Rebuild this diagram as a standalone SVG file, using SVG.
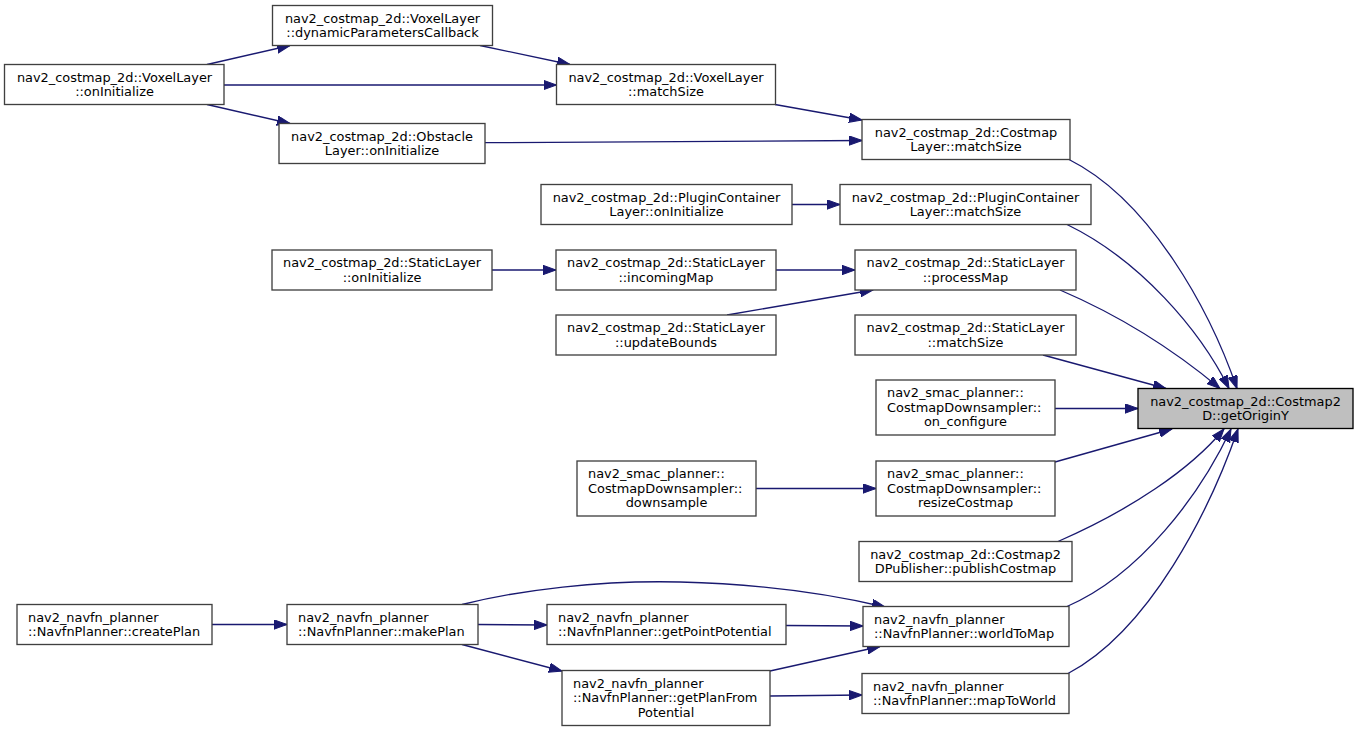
<svg xmlns="http://www.w3.org/2000/svg" width="1359" height="731" viewBox="0 0 1359 731">
<style>
.n rect{fill:#fff;stroke:#404040;stroke-width:1.33}
.root rect{fill:#bfbfbf;stroke:#000}
text{font-family:"DejaVu Sans","Liberation Sans",sans-serif;font-size:12.9px;fill:#000}
.c{text-anchor:middle}
.l{text-anchor:start}
#edges path{fill:none;stroke:#191970;stroke-width:1.33;marker-end:url(#ah)}
</style>
<defs>
<marker id="ah" markerUnits="userSpaceOnUse" markerWidth="14" markerHeight="10" refX="13" refY="4.7" orient="auto">
<path d="M0,0 L13,4.7 L0,9.4 z" fill="#191970" stroke="#191970"/>
</marker>
</defs>
<rect width="1359" height="731" fill="#fff"/>
<g id="edges">
<path d="M207,64.5 L290,45.5"/>
<path d="M224,85 L556.5,85"/>
<path d="M207,104.5 L290,123.5"/>
<path d="M480,45.5 L570,64.5"/>
<path d="M775,104.5 L862,120"/>
<path d="M485,142.7 L862,140.5"/>
<path d="M792,204.5 L840,204.5"/>
<path d="M492,270 L556,270"/>
<path d="M776,270 L855,270"/>
<path d="M727,315 L873,290"/>
<path d="M756,488.5 L876,488.5"/>
<path d="M212,624.5 L287,624.5"/>
<path d="M478,624.5 L547,625"/>
<path d="M462,644.5 L562,671"/>
<path d="M462,604.5 C520,590 600,580 680,582 C760,584 830,594 885,607"/>
<path d="M786,625.5 L863,626"/>
<path d="M770,671 L880,646.5"/>
<path d="M770,696 L862,695"/>
<path d="M1067,606.5 C1140,575 1200,495 1231,429"/>
<path d="M1068,673.5 C1150,630 1210,510 1238,429"/>
<path d="M1058,541.5 C1130,510 1190,470 1224,429"/>
<path d="M1055,462 L1172,429"/>
<path d="M1055,408.5 L1138,408.5"/>
<path d="M1043,355 L1166,388.5"/>
<path d="M1060,290 C1130,320 1180,355 1220,388.5"/>
<path d="M1067,224.5 C1140,260 1200,330 1229,388.5"/>
<path d="M1069,159.5 C1150,200 1210,310 1237,388.5"/>
</g>
<g id="n1" class="n"><rect x="4.5" y="64.5" width="219.5" height="40"/><text class="c" x="114.5" y="81.5">nav2_costmap_2d::VoxelLayer</text><text class="c" x="114.5" y="96">::onInitialize</text></g>
<g id="n2" class="n"><rect x="272.5" y="5.5" width="220" height="40"/><text class="c" x="382.5" y="22.5">nav2_costmap_2d::VoxelLayer</text><text class="c" x="382.5" y="37">::dynamicParametersCallback</text></g>
<g id="n3" class="n"><rect x="279" y="123.5" width="206" height="40"/><text class="c" x="382" y="140.5">nav2_costmap_2d::Obstacle</text><text class="c" x="382" y="155">Layer::onInitialize</text></g>
<g id="n4" class="n"><rect x="556.5" y="64.5" width="219" height="40"/><text class="c" x="666" y="81.5">nav2_costmap_2d::VoxelLayer</text><text class="c" x="666" y="96">::matchSize</text></g>
<g id="n5" class="n"><rect x="862" y="119.5" width="208" height="40"/><text class="c" x="966" y="136.5">nav2_costmap_2d::Costmap</text><text class="c" x="966" y="151">Layer::matchSize</text></g>
<g id="n6" class="n"><rect x="541" y="184.5" width="251" height="40"/><text class="c" x="666.5" y="201.5">nav2_costmap_2d::PluginContainer</text><text class="c" x="666.5" y="216">Layer::onInitialize</text></g>
<g id="n7" class="n"><rect x="840" y="184.5" width="251" height="40"/><text class="c" x="965.5" y="201.5">nav2_costmap_2d::PluginContainer</text><text class="c" x="965.5" y="216">Layer::matchSize</text></g>
<g id="n8" class="n"><rect x="272" y="250" width="220" height="40"/><text class="c" x="382" y="267">nav2_costmap_2d::StaticLayer</text><text class="c" x="382" y="281.5">::onInitialize</text></g>
<g id="n9" class="n"><rect x="556" y="250" width="220" height="40"/><text class="c" x="666" y="267">nav2_costmap_2d::StaticLayer</text><text class="c" x="666" y="281.5">::incomingMap</text></g>
<g id="n10" class="n"><rect x="855" y="250" width="221" height="40"/><text class="c" x="965.5" y="267">nav2_costmap_2d::StaticLayer</text><text class="c" x="965.5" y="281.5">::processMap</text></g>
<g id="n11" class="n"><rect x="556" y="315" width="220" height="40"/><text class="c" x="666" y="332">nav2_costmap_2d::StaticLayer</text><text class="c" x="666" y="346.5">::updateBounds</text></g>
<g id="n12" class="n"><rect x="855" y="315" width="221" height="40"/><text class="c" x="965.5" y="332">nav2_costmap_2d::StaticLayer</text><text class="c" x="965.5" y="346.5">::matchSize</text></g>
<g id="n13" class="n root"><rect x="1138" y="388.5" width="215" height="40"/><text class="c" x="1245.5" y="405.5">nav2_costmap_2d::Costmap2</text><text class="c" x="1245.5" y="420">D::getOriginY</text></g>
<g id="n14" class="n"><rect x="876" y="380" width="179" height="55"/><text class="l" x="887" y="397">nav2_smac_planner::</text><text class="l" x="887" y="411.5">CostmapDownsampler::</text><text class="c" x="965.5" y="426">on_configure</text></g>
<g id="n15" class="n"><rect x="577" y="461" width="179" height="55"/><text class="l" x="588" y="478">nav2_smac_planner::</text><text class="l" x="588" y="492.5">CostmapDownsampler::</text><text class="c" x="666.5" y="507">downsample</text></g>
<g id="n16" class="n"><rect x="876" y="461" width="179" height="55"/><text class="l" x="887" y="478">nav2_smac_planner::</text><text class="l" x="887" y="492.5">CostmapDownsampler::</text><text class="c" x="965.5" y="507">resizeCostmap</text></g>
<g id="n17" class="n"><rect x="859" y="541.5" width="213" height="40"/><text class="c" x="965.5" y="558.5">nav2_costmap_2d::Costmap2</text><text class="c" x="965.5" y="573">DPublisher::publishCostmap</text></g>
<g id="n18" class="n"><rect x="17" y="604.5" width="195" height="40"/><text class="l" x="28" y="621.5">nav2_navfn_planner</text><text class="l" x="28" y="636">::NavfnPlanner::createPlan</text></g>
<g id="n19" class="n"><rect x="287" y="604.5" width="191" height="40"/><text class="l" x="298" y="621.5">nav2_navfn_planner</text><text class="l" x="298" y="636">::NavfnPlanner::makePlan</text></g>
<g id="n20" class="n"><rect x="547" y="604.5" width="239" height="40"/><text class="l" x="558" y="621.5">nav2_navfn_planner</text><text class="l" x="558" y="636">::NavfnPlanner::getPointPotential</text></g>
<g id="n21" class="n"><rect x="863" y="606.5" width="206" height="40"/><text class="l" x="874" y="623.5">nav2_navfn_planner</text><text class="l" x="874" y="638">::NavfnPlanner::worldToMap</text></g>
<g id="n22" class="n"><rect x="562" y="670.5" width="208" height="55"/><text class="l" x="573" y="687.5">nav2_navfn_planner</text><text class="l" x="573" y="702">::NavfnPlanner::getPlanFrom</text><text class="c" x="666" y="716.5">Potential</text></g>
<g id="n23" class="n"><rect x="862" y="673.5" width="207" height="40"/><text class="l" x="873" y="690.5">nav2_navfn_planner</text><text class="l" x="873" y="705">::NavfnPlanner::mapToWorld</text></g>
</svg>
